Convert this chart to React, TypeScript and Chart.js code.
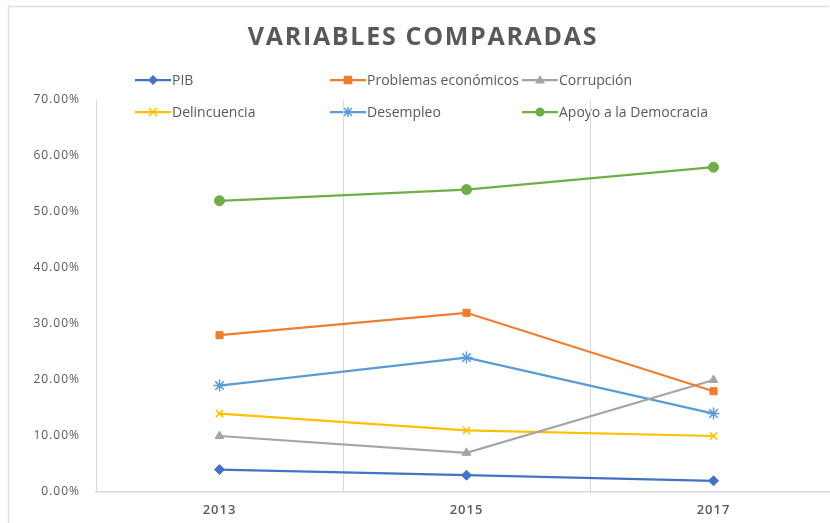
import React, { useEffect, useRef } from 'react';
import { Chart, registerables } from 'chart.js';

Chart.register(...registerables);

const years = ['2013', '2015', '2017'];
const pib = [4, 3, 2];
const problemas = [28, 32, 18];
const corrupcion = [10, 7, 20];
const delincuencia = [14, 11, 10];
const desempleo = [19, 24, 14];
const apoyo = [52, 54, 58];

const titleText = 'VARIABLES COMPARADAS';
const seriesNames = ['PIB', 'Problemas económicos', 'Corrupción', 'Delincuencia', 'Desempleo', 'Apoyo a la Democracia'];
const seriesColors = ['#4472C4', '#ED7D31', '#A5A5A5', '#FFC000', '#5B9BD5', '#70AD47'];
const seriesMarkers = ['rectRot', 'rect', 'triangle', 'crossRot', 'star', 'circle'];
const seriesValues = [pib, problemas, corrupcion, delincuencia, desempleo, apoyo];

const yMax = 70;
const yStep = 10;

const TEXT = '#595959';
const GRID = '#d9d9d9';
const FONT = '"Open Sans", "Liberation Sans", sans-serif';

function drawMarker(ctx: CanvasRenderingContext2D, style: string, x: number, y: number, r: number, color: string) {
  ctx.save();
  ctx.fillStyle = color;
  ctx.strokeStyle = color;
  ctx.lineWidth = 1.5;
  ctx.beginPath();
  if (style === 'rectRot') {
    ctx.moveTo(x, y - r); ctx.lineTo(x + r, y); ctx.lineTo(x, y + r); ctx.lineTo(x - r, y); ctx.closePath(); ctx.fill();
  } else if (style === 'rect') {
    ctx.rect(x - r * 0.85, y - r * 0.85, r * 1.7, r * 1.7); ctx.fill();
  } else if (style === 'triangle') {
    ctx.moveTo(x, y - r); ctx.lineTo(x + r, y + r * 0.7); ctx.lineTo(x - r, y + r * 0.7); ctx.closePath(); ctx.fill();
  } else if (style === 'crossRot') {
    const d = r * 0.8;
    ctx.moveTo(x - d, y - d); ctx.lineTo(x + d, y + d); ctx.moveTo(x + d, y - d); ctx.lineTo(x - d, y + d); ctx.stroke();
  } else if (style === 'star') {
    const d = r * 0.8;
    ctx.moveTo(x - d, y - d); ctx.lineTo(x + d, y + d); ctx.moveTo(x + d, y - d); ctx.lineTo(x - d, y + d);
    ctx.moveTo(x, y - r); ctx.lineTo(x, y + r); ctx.stroke();
  } else {
    ctx.arc(x, y, r * 0.9, 0, Math.PI * 2); ctx.fill();
  }
  ctx.restore();
}

const decorPlugin = {
  id: 'decor',
  beforeDraw(chart: any) {
    const ctx: CanvasRenderingContext2D = chart.ctx;
    ctx.save();
    ctx.fillStyle = '#ffffff';
    ctx.fillRect(0, 0, chart.width, chart.height);
    // frame
    ctx.strokeStyle = '#e0e0e0';
    ctx.lineWidth = 1.5;
    ctx.beginPath();
    ctx.moveTo(8.5, chart.height + 2);
    ctx.lineTo(8.5, 6.5);
    ctx.lineTo(829.5, 6.5);
    ctx.stroke();
    // title
    ctx.fillStyle = TEXT;
    ctx.font = `bold 25px ${FONT}`;
    (ctx as any).letterSpacing = '1.7px';
    ctx.textAlign = 'center';
    ctx.textBaseline = 'middle';
    ctx.fillText(titleText, 423, 38);
    (ctx as any).letterSpacing = '0px';
    // legend
    const cols = [135, 330, 522];
    const rows = [80, 112];
    ctx.font = `14px ${FONT}`;
    ctx.textAlign = 'left';
    seriesNames.forEach((name, i) => {
      const x = cols[i % 3];
      const y = rows[Math.floor(i / 3)];
      ctx.strokeStyle = seriesColors[i];
      ctx.lineWidth = 2.25;
      ctx.beginPath();
      ctx.moveTo(x, y);
      ctx.lineTo(x + 36, y);
      ctx.stroke();
      drawMarker(ctx, seriesMarkers[i], x + 18, y, 5, seriesColors[i]);
      ctx.fillStyle = TEXT;
      ctx.fillText(name, x + 37, y + 1);
    });
    ctx.restore();
    // spacing for axis labels drawn next
    (ctx as any).letterSpacing = '1px';
  },
  beforeDatasetsDraw(chart: any) {
    (chart.ctx as any).letterSpacing = '0px';
  },
};

export default function App() {
  const ref = useRef<HTMLCanvasElement | null>(null);
  useEffect(() => {
    if (!ref.current) return;
    const chart = new Chart(ref.current, {
      type: 'line',
      data: {
        labels: years,
        datasets: seriesNames.map((name, i) => ({
          label: name,
          data: seriesValues[i],
          borderColor: seriesColors[i],
          backgroundColor: seriesColors[i],
          borderWidth: 2.25,
          pointStyle: seriesMarkers[i] as any,
          pointRadius: seriesMarkers[i] === 'star' ? 6 : 5,
          pointBorderWidth: seriesMarkers[i] === 'star' || seriesMarkers[i] === 'crossRot' ? 1.5 : 1,
          pointBackgroundColor: seriesColors[i],
          pointBorderColor: seriesColors[i],
          tension: 0,
          fill: false,
        })),
      },
      options: {
        responsive: false,
        animation: false,
        layout: { padding: { top: 100, left: 0, right: 13, bottom: 0 } },
        plugins: {
          legend: { display: false },
          title: { display: false },
          tooltip: { enabled: false },
        },
        scales: {
          x: {
            type: 'category',
            offset: true,
            grid: { display: true, offset: true, color: GRID, lineWidth: 1, drawTicks: false },
            border: { display: true, color: GRID, width: 1.5 },
            ticks: { color: TEXT, font: { family: FONT, size: 13, weight: 600 }, padding: 10 },
            afterFit(scale: any) { scale.height = 31; },
          },
          y: {
            min: 0,
            max: yMax,
            grid: { display: false, drawTicks: false },
            border: { display: false },
            ticks: {
              stepSize: yStep,
              color: TEXT,
              font: { family: FONT, size: 12 },
              padding: 16,
              callback: (v: any) => Number(v).toFixed(2) + '%',
            },
            afterFit(scale: any) { scale.width = 96; },
          },
        },
      },
      plugins: [decorPlugin],
    });
    return () => chart.destroy();
  }, []);
  return (
    <div style={{ position: 'absolute', left: 0, top: 0, width: 830, height: 523, overflow: 'hidden', background: '#fff' }}>
      <canvas ref={ref} width={850} height={523} style={{ display: 'block' }} />
    </div>
  );
}
